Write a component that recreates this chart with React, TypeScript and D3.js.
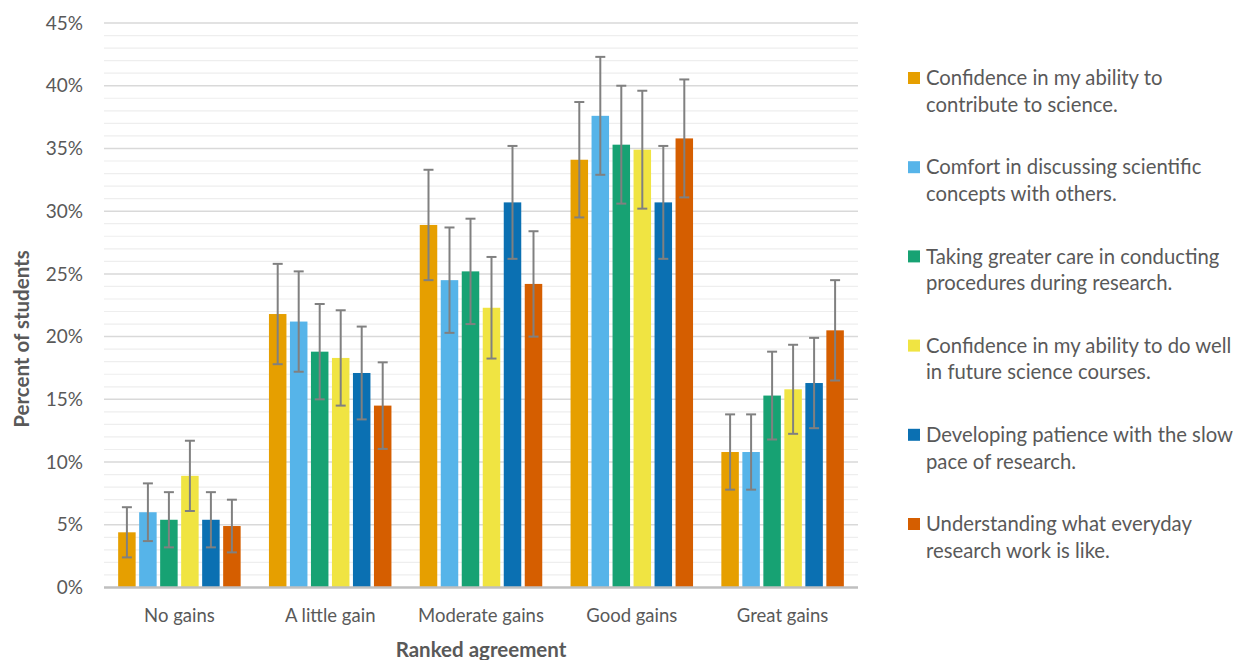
import React from "react";
import * as d3 from "d3";

const categories = ["No gains", "A little gain", "Moderate gains", "Good gains", "Great gains"];
const seriesNames = [
  ["Confidence in my ability to", "contribute to science."],
  ["Comfort in discussing scientific", "concepts with others."],
  ["Taking greater care in conducting", "procedures during research."],
  ["Confidence in my ability to do well", "in future science courses."],
  ["Developing patience with the slow", "pace of research."],
  ["Understanding what everyday", "research work is like."],
];
const colors = ["#E69F00", "#56B4E9", "#17A273", "#F0E442", "#0B70B2", "#D55E00"];

// values per series across categories (percent)
const confContribute = [4.4, 21.8, 28.9, 34.1, 10.8];
const comfortDiscuss = [6.0, 21.2, 24.5, 37.6, 10.8];
const greaterCare = [5.4, 18.8, 25.2, 35.3, 15.3];
const confCourses = [8.9, 18.3, 22.3, 34.9, 15.8];
const patience = [5.4, 17.1, 30.7, 30.7, 16.3];
const everydayWork = [4.9, 14.5, 24.2, 35.8, 20.5];

const errContribute = [2.0, 4.0, 4.4, 4.6, 3.0];
const errDiscuss = [2.3, 4.0, 4.2, 4.7, 3.0];
const errCare = [2.2, 3.8, 4.2, 4.7, 3.5];
const errCourses = [2.8, 3.8, 4.05, 4.7, 3.55];
const errPatience = [2.2, 3.7, 4.5, 4.5, 3.6];
const errEveryday = [2.1, 3.45, 4.2, 4.7, 4.0];

const values = [confContribute, comfortDiscuss, greaterCare, confCourses, patience, everydayWork];
const errors = [errContribute, errDiscuss, errCare, errCourses, errPatience, errEveryday];

const yTicks = [0, 5, 10, 15, 20, 25, 30, 35, 40, 45];
const minorTicks = d3.range(0, 46, 1);

const FONT = "Lato, 'Open Sans', sans-serif";
const TXT = "#595959";

export default function App() {
  const left = 104, right = 858, top = 23, bottom = 587.5;
  const y = d3.scaleLinear().domain([0, 45]).range([bottom, top]);
  const x0 = d3.scaleBand<string>().domain(categories).range([left, right]).padding(0);
  const groupW = 122.5;
  const x1 = d3.scaleBand<number>().domain(d3.range(6)).range([0, groupW]).paddingInner(0.1667).paddingOuter(0);
  const off = (x0.bandwidth() - groupW) / 2;
  const legX = 908, legY0 = 72, legStep = 89.2;

  return (
    <svg width={1239} height={660} style={{ position: "absolute", left: 0, top: 0, background: "#fff" }}>
      {minorTicks.filter((t) => t % 5 !== 0).map((t) => (
        <line key={"m" + t} x1={left} x2={right} y1={y(t)} y2={y(t)} stroke="#eeeeee" strokeWidth={1.2} />
      ))}
      {yTicks.filter((t) => t > 0).map((t) => (
        <line key={"g" + t} x1={left} x2={right} y1={y(t)} y2={y(t)} stroke="#d9d9d9" strokeWidth={1.5} />
      ))}
      {yTicks.map((t) => (
        <text key={"t" + t} x={83} y={y(t)} dy="0.35em" textAnchor="end" fontSize={19} fill={TXT} fontFamily={FONT}>
          {t + "%"}
        </text>
      ))}
      {categories.map((c, ci) =>
        values.map((vals, si) => {
          const bx = (x0(c) as number) + off + (x1(si) as number);
          const bw = x1.bandwidth();
          return (
            <rect key={c + si} x={bx} y={y(vals[ci])} width={bw} height={y(0) - y(vals[ci])} fill={colors[si]} />
          );
        })
      )}
      <line x1={left} x2={right} y1={y(0)} y2={y(0)} stroke="#bfbfbf" strokeWidth={2.5} />
      {categories.map((c, ci) =>
        values.map((vals, si) => {
          const cx = (x0(c) as number) + off + (x1(si) as number) + x1.bandwidth() / 2;
          const hi = y(vals[ci] + errors[si][ci]);
          const lo = y(vals[ci] - errors[si][ci]);
          return (
            <g key={"e" + c + si} stroke="#808080" strokeWidth={2}>
              <line x1={cx} x2={cx} y1={hi} y2={lo} />
              <line x1={cx - 5} x2={cx + 5} y1={hi} y2={hi} />
              <line x1={cx - 5} x2={cx + 5} y1={lo} y2={lo} />
            </g>
          );
        })
      )}
      {categories.map((c) => (
        <text key={"x" + c} x={(x0(c) as number) + x0.bandwidth() / 2} y={616} dy="0.35em" textAnchor="middle" fontSize={18.5} fill={TXT} fontFamily={FONT}>
          {c}
        </text>
      ))}
      <text x={(left + right) / 2} y={650} dy="0.35em" textAnchor="middle" fontSize={20.5} fontWeight="bold" fill={TXT} fontFamily={FONT}>
        Ranked agreement
      </text>
      <text transform={`translate(22,339) rotate(-90)`} textAnchor="middle" dy="0.35em" fontSize={20.5} fontWeight="bold" fill={TXT} fontFamily={FONT}>
        Percent of students
      </text>
      {seriesNames.map((lines, i) => {
        const ly = legY0 + i * legStep;
        return (
          <g key={"l" + i}>
            <rect x={legX} y={ly} width={12} height={12} fill={colors[i]} />
            {lines.map((ln, k) => (
              <text key={k} x={926} y={ly + 6 + k * 26.7} dy="0.35em" fontSize={20.3} fill={TXT} fontFamily={FONT}>
                {ln}
              </text>
            ))}
          </g>
        );
      })}
    </svg>
  );
}
